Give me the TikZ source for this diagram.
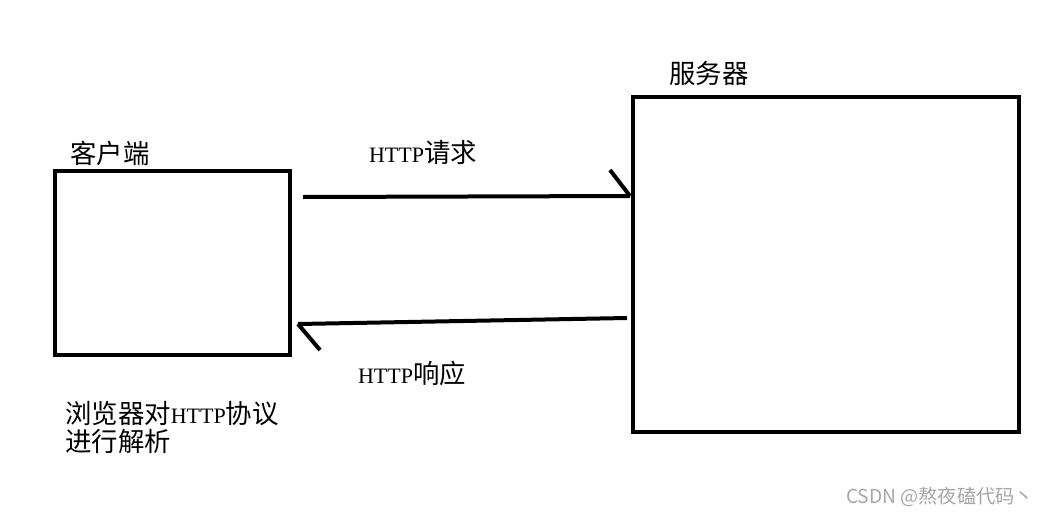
\documentclass[tikz,border=0pt]{standalone}
\usepackage{fontspec}
\setmainfont{Liberation Serif}
\newfontfamily\cjk[Scale=1.2]{Noto Sans CJK SC}
\begin{document}
\begin{tikzpicture}[x=1pt,y=-1pt,
  box/.style={draw,line width=4pt},
  ln/.style={line width=4pt},
  lbl/.style={font=\fontsize{22}{26}\selectfont,inner sep=0pt}]
\useasboundingbox (0,0) rectangle (1044,517);
\draw[box] (55,171) rectangle (290,355);
\draw[box] (633,97) rectangle (1019,432);
\coordinate (a1s) at (303,197);
\coordinate (a1e) at (630,196);
\coordinate (b1) at (610,170);
\draw[ln] (a1s) -- (a1e);
\draw[ln] (b1) -- (a1e);
\coordinate (a2s) at (627,318);
\coordinate (a2e) at (298,324);
\coordinate (b2) at (320,350);
\draw[ln] (a2s) -- (a2e);
\draw[ln] (a2e) -- (b2);
\node[lbl] (c) at (110,153) {\cjk 客户端};
\node[lbl] (s) at (709,73) {\cjk 服务器};
\node[lbl] (q) at (423,152) {HTTP{\cjk 请求}};
\node[lbl] (r) at (412,373) {HTTP{\cjk 响应}};
\node[lbl,anchor=west,align=left] (p) at (65,427) {{\cjk 浏览器对}HTTP{\cjk 协议}\\[2pt]{\cjk 进行解析}};
\node[inner sep=0pt,text=gray!70,font=\fontsize{16}{18}\selectfont] (w) at (940,497) {\cjk CSDN @熬夜磕代码丶};
\end{tikzpicture}
\end{document}
